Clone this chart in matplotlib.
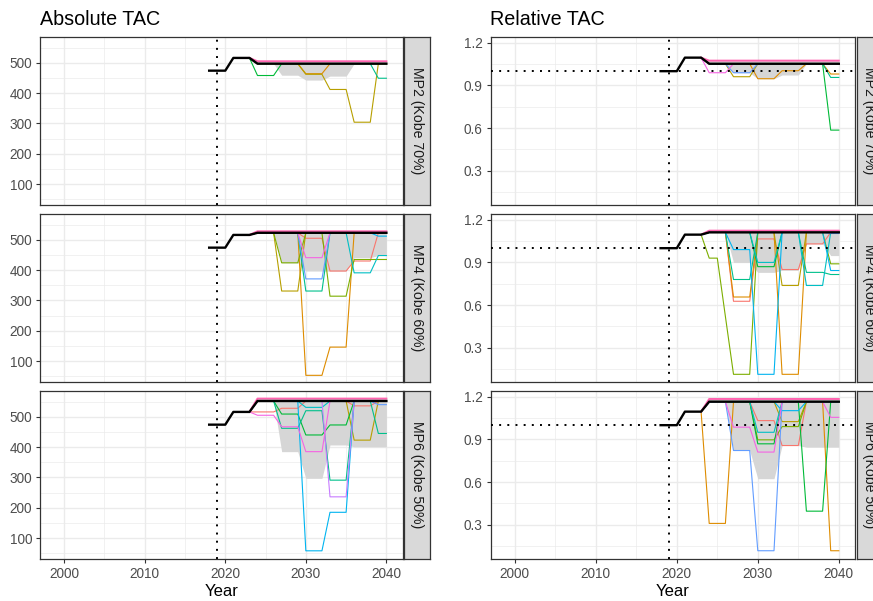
import numpy as np
import matplotlib.pyplot as plt

plt.rcParams['font.family'] = ['Liberation Sans', 'DejaVu Sans']

years = np.arange(2018, 2041)       # median line
proj_years = np.arange(2023, 2041)  # ribbon + individual simulations

mp_labels = ["MP2 (Kobe 70%)", "MP4 (Kobe 60%)", "MP6 (Kobe 50%)"]
x_breaks = [2000, 2010, 2020, 2030, 2040]
abs_breaks = [100, 200, 300, 400, 500]
rel_breaks = [0.3, 0.6, 0.9, 1.2]

# ---------------- Absolute TAC ----------------
abs_mp2_med = [474, 474, 474, 516, 516, 516, 497, 497, 497, 497, 497, 497, 497, 497, 497, 497, 497, 497, 497, 497, 497, 497, 497]
abs_mp2_lo = [516, 497, 497, 497, 459, 459, 459, 443, 443, 443, 456, 456, 456, 497, 497, 497, 497, 497]
abs_mp2_hi = [516, 505, 505, 505, 505, 505, 505, 505, 505, 505, 505, 505, 505, 505, 505, 505, 505, 505]
abs_mp2_sims = {
    2: [516, 497, 497, 497, 497, 497, 497, 464, 464, 464, 497, 497, 497, 497, 497, 497, 497, 497],
    3: [516, 497, 497, 497, 497, 497, 497, 462, 462, 462, 412, 412, 412, 304, 304, 304, 497, 497],
    5: [516, 458, 458, 458, 497, 497, 497, 497, 497, 497, 497, 497, 497, 497, 497, 497, 497, 497],
    6: [516, 497, 497, 497, 497, 497, 497, 497, 497, 497, 497, 497, 497, 497, 497, 497, 449, 449],
    12: [516, 505, 505, 505, 505, 505, 505, 505, 505, 505, 505, 505, 505, 505, 505, 505, 505, 505],
}

abs_mp4_med = [474, 474, 474, 516, 516, 516, 523, 523, 523, 523, 523, 523, 523, 523, 523, 523, 523, 523, 523, 523, 523, 523, 523]
abs_mp4_lo = [516, 523, 523, 523, 424, 424, 424, 397, 397, 397, 397, 397, 397, 441, 441, 441, 448, 448]
abs_mp4_hi = [516, 528, 528, 528, 528, 528, 528, 528, 528, 528, 528, 528, 528, 528, 528, 528, 528, 528]
abs_mp4_sims = {
    1: [516, 523, 523, 523, 523, 523, 523, 505, 505, 505, 397, 397, 397, 430, 430, 430, 523, 523],
    2: [516, 523, 523, 523, 523, 523, 523, 53, 53, 53, 146, 146, 146, 523, 523, 523, 523, 523],
    3: [516, 523, 523, 523, 331, 331, 331, 523, 523, 523, 523, 523, 523, 523, 523, 523, 523, 523],
    4: [516, 523, 523, 523, 424, 424, 424, 523, 523, 523, 314, 314, 314, 435, 435, 435, 435, 435],
    6: [516, 523, 523, 523, 523, 523, 523, 331, 331, 331, 523, 523, 523, 523, 523, 523, 523, 523],
    7: [516, 523, 523, 523, 523, 523, 523, 523, 523, 523, 523, 523, 523, 391, 391, 391, 448, 448],
    8: [516, 523, 523, 523, 523, 523, 523, 523, 523, 523, 523, 523, 523, 523, 523, 523, 512, 512],
    9: [516, 523, 523, 523, 523, 523, 523, 371, 371, 371, 523, 523, 523, 523, 523, 523, 523, 523],
    11: [516, 523, 523, 523, 523, 523, 523, 441, 441, 441, 523, 523, 523, 523, 523, 523, 523, 523],
    12: [516, 528, 528, 528, 528, 528, 528, 528, 528, 528, 528, 528, 528, 528, 528, 528, 528, 528],
}

abs_mp6_med = [474, 474, 474, 516, 516, 516, 552, 552, 552, 552, 552, 552, 552, 552, 552, 552, 552, 552, 552, 552, 552, 552, 552]
abs_mp6_lo = [516, 552, 552, 552, 385, 385, 385, 297, 297, 297, 407, 407, 407, 401, 401, 401, 401, 401]
abs_mp6_hi = [516, 560, 560, 560, 560, 560, 560, 560, 560, 560, 560, 560, 560, 560, 560, 560, 560, 560]
abs_mp6_sims = {
    1: [516, 516, 516, 516, 528, 528, 528, 552, 552, 552, 552, 552, 552, 536, 536, 536, 552, 552],
    3: [516, 552, 552, 552, 552, 552, 552, 552, 552, 552, 552, 552, 552, 423, 423, 423, 552, 552],
    5: [516, 552, 552, 552, 509, 509, 509, 440, 440, 440, 473, 473, 473, 552, 552, 552, 552, 552],
    6: [516, 552, 552, 552, 462, 462, 462, 520, 520, 520, 291, 291, 291, 552, 552, 552, 445, 445],
    7: [516, 552, 552, 552, 552, 552, 552, 531, 531, 531, 552, 552, 552, 552, 552, 552, 552, 552],
    8: [516, 552, 552, 552, 552, 552, 552, 58, 58, 58, 185, 185, 185, 552, 552, 552, 552, 552],
    9: [516, 552, 552, 552, 552, 552, 552, 552, 552, 552, 552, 552, 552, 552, 552, 552, 540, 540],
    10: [516, 552, 552, 552, 552, 552, 552, 552, 552, 552, 236, 236, 236, 552, 552, 552, 552, 552],
    11: [516, 505, 505, 505, 467, 467, 467, 385, 385, 385, 552, 552, 552, 552, 552, 552, 552, 552],
    12: [516, 560, 560, 560, 560, 560, 560, 560, 560, 560, 560, 560, 560, 560, 560, 560, 560, 560],
}

# ---------------- Relative TAC ----------------
rel_mp2_med = [1.0, 1.0, 1.0, 1.095, 1.095, 1.095, 1.052, 1.052, 1.052, 1.052, 1.052, 1.052, 1.052, 1.052, 1.052, 1.052, 1.052, 1.052, 1.052, 1.052, 1.052, 1.052, 1.052]
rel_mp2_lo = [1.095, 1.052, 1.052, 1.052, 0.989, 0.989, 0.989, 0.947, 0.947, 0.947, 0.973, 0.973, 0.973, 1.052, 1.052, 1.052, 1.052, 1.052]
rel_mp2_hi = [1.095, 1.074, 1.074, 1.074, 1.074, 1.074, 1.074, 1.074, 1.074, 1.074, 1.074, 1.074, 1.074, 1.074, 1.074, 1.074, 1.074, 1.074]
rel_mp2_sims = {
    2: [1.095, 1.052, 1.052, 1.052, 1.052, 1.052, 1.052, 0.947, 0.947, 0.947, 1.003, 1.003, 1.003, 1.052, 1.052, 1.052, 0.98, 0.98],
    3: [1.095, 1.052, 1.052, 1.052, 0.961, 0.961, 0.961, 1.052, 1.052, 1.052, 1.052, 1.052, 1.052, 1.052, 1.052, 1.052, 1.052, 1.052],
    5: [1.095, 1.052, 1.052, 1.052, 1.052, 1.052, 1.052, 1.052, 1.052, 1.052, 1.052, 1.052, 1.052, 1.052, 1.052, 1.052, 0.586, 0.586],
    6: [1.095, 1.052, 1.052, 1.052, 1.052, 1.052, 1.052, 1.052, 1.052, 1.052, 1.052, 1.052, 1.052, 1.052, 1.052, 1.052, 0.956, 0.956],
    9: [1.095, 1.052, 1.052, 1.052, 0.989, 0.989, 0.989, 1.052, 1.052, 1.052, 1.052, 1.052, 1.052, 1.052, 1.052, 1.052, 1.052, 1.052],
    11: [1.095, 0.989, 0.989, 0.989, 1.052, 1.052, 1.052, 1.052, 1.052, 1.052, 1.052, 1.052, 1.052, 1.052, 1.052, 1.052, 1.052, 1.052],
    12: [1.095, 1.074, 1.074, 1.074, 1.074, 1.074, 1.074, 1.074, 1.074, 1.074, 1.074, 1.074, 1.074, 1.074, 1.074, 1.074, 1.074, 1.074],
}

rel_mp4_med = [1.0, 1.0, 1.0, 1.095, 1.095, 1.095, 1.111, 1.111, 1.111, 1.111, 1.111, 1.111, 1.111, 1.111, 1.111, 1.111, 1.111, 1.111, 1.111, 1.111, 1.111, 1.111, 1.111]
rel_mp4_lo = [1.095, 1.111, 1.111, 1.111, 0.90, 0.90, 0.90, 0.83, 0.83, 0.83, 0.845, 0.845, 0.845, 1.03, 1.03, 1.03, 0.948, 0.948]
rel_mp4_hi = [1.095, 1.123, 1.123, 1.123, 1.123, 1.123, 1.123, 1.123, 1.123, 1.123, 1.123, 1.123, 1.123, 1.123, 1.123, 1.123, 1.123, 1.123]
rel_mp4_sims = {
    1: [1.095, 1.111, 1.111, 1.111, 0.627, 0.627, 0.627, 1.065, 1.065, 1.065, 0.85, 0.85, 0.85, 1.03, 1.03, 1.03, 1.111, 1.111],
    2: [1.095, 1.111, 1.111, 1.111, 0.657, 0.657, 0.657, 1.111, 1.111, 1.111, 0.114, 0.114, 0.114, 1.111, 1.111, 1.111, 1.111, 1.111],
    3: [1.095, 1.111, 1.111, 1.111, 1.111, 1.111, 1.111, 1.111, 1.111, 1.111, 0.738, 0.738, 0.738, 1.111, 1.111, 1.111, 1.111, 1.111],
    4: [1.095, 0.93, 0.93, 0.52, 0.114, 0.114, 0.114, 1.111, 1.111, 1.111, 1.111, 1.111, 1.111, 1.111, 1.111, 1.111, 0.89, 0.89],
    5: [1.095, 1.111, 1.111, 1.111, 1.111, 1.111, 1.111, 0.87, 0.87, 0.87, 1.111, 1.111, 1.111, 1.111, 1.111, 1.111, 1.111, 1.111],
    6: [1.095, 1.111, 1.111, 1.111, 0.78, 0.78, 0.78, 1.111, 1.111, 1.111, 1.111, 1.111, 1.111, 0.83, 0.83, 0.83, 0.815, 0.815],
    7: [1.095, 1.111, 1.111, 1.111, 1.111, 1.111, 1.111, 0.90, 0.90, 0.90, 1.111, 1.111, 1.111, 0.738, 0.738, 0.738, 1.111, 1.111],
    8: [1.095, 1.111, 1.111, 1.111, 0.99, 0.99, 0.99, 0.114, 0.114, 0.114, 1.111, 1.111, 1.111, 1.111, 1.111, 1.111, 0.843, 0.843],
    9: [1.095, 1.111, 1.111, 1.111, 1.111, 1.111, 1.111, 1.111, 1.111, 1.111, 1.111, 1.111, 1.111, 1.111, 1.111, 1.111, 1.103, 1.103],
    12: [1.095, 1.123, 1.123, 1.123, 1.123, 1.123, 1.123, 1.123, 1.123, 1.123, 1.123, 1.123, 1.123, 1.123, 1.123, 1.123, 1.123, 1.123],
}

rel_mp6_med = [1.0, 1.0, 1.0, 1.095, 1.095, 1.095, 1.165, 1.165, 1.165, 1.165, 1.165, 1.165, 1.165, 1.165, 1.165, 1.165, 1.165, 1.165, 1.165, 1.165, 1.165, 1.165, 1.165]
rel_mp6_lo = [1.095, 1.165, 1.165, 1.165, 0.822, 0.822, 0.822, 0.624, 0.624, 0.624, 0.857, 0.857, 0.857, 0.845, 0.845, 0.845, 0.845, 0.845]
rel_mp6_hi = [1.095, 1.184, 1.184, 1.184, 1.184, 1.184, 1.184, 1.184, 1.184, 1.184, 1.184, 1.184, 1.184, 1.184, 1.184, 1.184, 1.184, 1.184]
rel_mp6_sims = {
    1: [1.095, 1.165, 1.165, 1.165, 1.165, 1.165, 1.165, 1.032, 1.032, 1.032, 0.857, 0.857, 0.857, 1.165, 1.165, 1.165, 1.165, 1.165],
    2: [1.095, 0.31, 0.31, 0.31, 1.165, 1.165, 1.165, 1.165, 1.165, 1.165, 1.165, 1.165, 1.165, 1.165, 1.165, 1.165, 0.118, 0.118],
    3: [1.095, 1.165, 1.165, 1.165, 1.165, 1.165, 1.165, 1.165, 1.165, 1.165, 1.025, 1.025, 1.025, 1.165, 1.165, 1.165, 1.165, 1.165],
    4: [1.095, 1.165, 1.165, 1.165, 1.165, 1.165, 1.165, 0.897, 0.897, 0.897, 0.99, 0.99, 0.99, 1.165, 1.165, 1.165, 1.165, 1.165],
    5: [1.095, 1.165, 1.165, 1.165, 1.165, 1.165, 1.165, 0.869, 0.869, 0.869, 1.165, 1.165, 1.165, 0.396, 0.396, 0.396, 1.165, 1.165],
    7: [1.095, 1.165, 1.165, 1.165, 1.165, 1.165, 1.165, 0.95, 0.95, 0.95, 1.165, 1.165, 1.165, 1.165, 1.165, 1.165, 1.165, 1.165],
    8: [1.095, 1.165, 1.165, 1.165, 1.165, 1.165, 1.165, 1.165, 1.165, 1.165, 1.102, 1.102, 1.102, 1.165, 1.165, 1.165, 1.165, 1.165],
    9: [1.095, 1.165, 1.165, 1.165, 0.822, 0.822, 0.822, 0.118, 0.118, 0.118, 1.165, 1.165, 1.165, 1.165, 1.165, 1.165, 1.165, 1.165],
    11: [1.095, 1.165, 1.165, 1.165, 0.986, 0.986, 0.986, 0.811, 0.811, 0.811, 1.165, 1.165, 1.165, 1.165, 1.165, 1.165, 1.055, 1.055],
    12: [1.095, 1.184, 1.184, 1.184, 1.184, 1.184, 1.184, 1.184, 1.184, 1.184, 1.184, 1.184, 1.184, 1.184, 1.184, 1.184, 1.184, 1.184],
}

abs_panels = [(abs_mp2_med, abs_mp2_lo, abs_mp2_hi, abs_mp2_sims),
              (abs_mp4_med, abs_mp4_lo, abs_mp4_hi, abs_mp4_sims),
              (abs_mp6_med, abs_mp6_lo, abs_mp6_hi, abs_mp6_sims)]
rel_panels = [(rel_mp2_med, rel_mp2_lo, rel_mp2_hi, rel_mp2_sims),
              (rel_mp4_med, rel_mp4_lo, rel_mp4_hi, rel_mp4_sims),
              (rel_mp6_med, rel_mp6_lo, rel_mp6_hi, rel_mp6_sims)]

# ggplot-like hue palette for the simulation lines
hue = ['#F8766D', '#DE8C00', '#B79F00', '#7CAE00', '#00BA38', '#00C08B',
       '#00BFC4', '#00B4F0', '#619CFF', '#C77CFF', '#F564E3', '#FF64B0']

W, H = 873, 601
fig = plt.figure(figsize=(W / 100, H / 100), dpi=100)


def px_axes(x0, y0, x1, y1):
    return fig.add_axes([x0 / W, 1 - y1 / H, (x1 - x0) / W, (y1 - y0) / H])


row_top = [37, 214, 391]
row_h = 168
cols = [
    dict(x0=40, x1=402.5, s0=403.5, s1=429.5, ylim=(31, 585), breaks=abs_breaks,
         minor=[50, 150, 250, 350, 450, 550], title="Absolute TAC", ref=False,
         labels=[str(b) for b in abs_breaks], panels=abs_panels),
    dict(x0=490.5, x1=855, s0=856.5, s1=882.5, ylim=(0.06, 1.24), breaks=rel_breaks,
         minor=[0.15, 0.45, 0.75, 1.05], title="Relative TAC", ref=True,
         labels=[f"{b:.1f}" for b in rel_breaks], panels=rel_panels),
]

dot = (0, (1, 3.2))

for c in cols:
    fig.text(c['x0'] / W, 1 - 25 / H, c['title'], fontsize=14.2, ha='left', va='baseline')
    fig.text((c['x0'] + c['x1']) / 2 / W, 1 - 591 / H, "Year", fontsize=12,
             ha='center', va='center')
    for r in range(3):
        med, lo, hi, sims = c['panels'][r]
        top = row_top[r]
        ax = px_axes(c['x0'], top, c['x1'], top + row_h)
        ax.set_xlim(1997, 2042)
        ax.set_ylim(*c['ylim'])
        ax.set_xticks(x_breaks)
        ax.set_xticks([2005, 2015, 2025, 2035], minor=True)
        ax.set_yticks(c['breaks'])
        ax.set_yticklabels(c['labels'])
        ax.set_yticks(c['minor'], minor=True)
        ax.set_axisbelow(True)
        ax.grid(which='major', color='#EBEBEB', lw=1.0)
        ax.grid(which='minor', color='#EBEBEB', lw=0.5)
        ax.tick_params(which='minor', length=0)
        ax.tick_params(which='major', direction='out', length=3.2, width=0.8,
                       color='#333333', labelcolor='#4D4D4D', labelsize=9.8, pad=2.5)
        if r < 2:
            ax.tick_params(axis='x', bottom=False, labelbottom=False)
        for sp in ax.spines.values():
            sp.set_color('#333333')
            sp.set_linewidth(0.9)

        ax.fill_between(proj_years, lo, hi, color='#D6D6D6', lw=0, zorder=1.5)
        for k in sorted(sims):
            lw = 1.4 if k == 12 else 0.8
            ax.plot(proj_years, sims[k], color=hue[k - 1], lw=lw, zorder=2)
        ax.plot(years, med, color='black', lw=1.7, zorder=3)
        ax.axvline(2019, color='black', lw=1.4, ls=dot, zorder=4)
        if c['ref']:
            ax.axhline(1.0, color='black', lw=1.4, ls=dot, zorder=4)

        sax = px_axes(c['s0'], top, c['s1'], top + row_h)
        sax.set_facecolor('#D9D9D9')
        sax.set_xticks([])
        sax.set_yticks([])
        for sp in sax.spines.values():
            sp.set_color('#333333')
            sp.set_linewidth(0.9)
        sax.text(0.5, 0.5, mp_labels[r], rotation=270, ha='center', va='center',
                 fontsize=10.2, color='#1A1A1A', transform=sax.transAxes)

fig.savefig('out.png', dpi=100)
